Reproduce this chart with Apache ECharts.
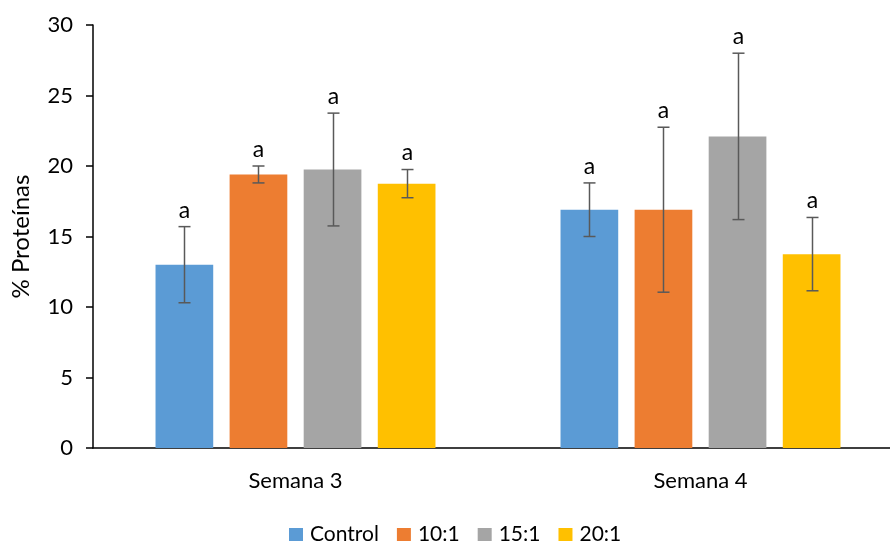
<!DOCTYPE html>
<html>
<head>
<meta charset="utf-8">
<script src="https://cdn.jsdelivr.net/npm/echarts@6/dist/echarts.min.js"></script>
<style>
  html, body { margin: 0; padding: 0; background: #fff; }
  #chart { width: 890px; height: 542px; }
</style>
</head>
<body>
<div id="chart"></div>
<script>
// Protein content per treatment, weeks 3 and 4 (mean ± error)
const categories = ['Semana 3', 'Semana 4'];
const seriesNames = ['Control', '10:1', '15:1', '20:1'];
const controlMean = [13.0, 16.9];
const ratio10Mean = [19.4, 16.9];
const ratio15Mean = [19.75, 22.1];
const ratio20Mean = [18.75, 13.75];
const controlErr = [2.7, 1.9];
const ratio10Err = [0.6, 5.85];
const ratio15Err = [4.0, 5.9];
const ratio20Err = [1.0, 2.6];
const groupLetters = [['a', 'a'], ['a', 'a'], ['a', 'a'], ['a', 'a']];
const yTicks = [0, 5, 10, 15, 20, 25, 30];

const means = [controlMean, ratio10Mean, ratio15Mean, ratio20Mean];
const errors = [controlErr, ratio10Err, ratio15Err, ratio20Err];
const colors = ['#5B9BD5', '#ED7D31', '#A5A5A5', '#FFC000'];

const FONT = 'Lato, "Open Sans", sans-serif';
const BAR_W = 57.7;
const BAR_GAP = 16.4;

const chart = echarts.init(document.getElementById('chart'), null, { renderer: 'canvas' });

const barSeries = seriesNames.map((name, i) => ({
  name: name,
  type: 'bar',
  data: means[i],
  barWidth: BAR_W,
  barGap: (BAR_GAP / BAR_W * 100).toFixed(1) + '%',
  itemStyle: { color: colors[i] },
  emphasis: { disabled: true },
  z: 2
}));

// Error whiskers and significance letters, placed over each bar
const errorSeries = seriesNames.map((name, i) => ({
  type: 'custom',
  name: name + ' error',
  z: 5,
  silent: true,
  data: categories.map((c, j) => [j, means[i][j], errors[i][j]]),
  renderItem: function (params, api) {
    const j = api.value(0);
    const m = api.value(1);
    const e = api.value(2);
    const offset = (i - 1.5) * (BAR_W + BAR_GAP);
    const hi = api.coord([j, m + e]);
    const lo = api.coord([j, m - e]);
    const x = Math.round(hi[0] + offset) + 0.5;
    const cap = 6;
    const style = { stroke: '#595959', lineWidth: 1.5 };
    return {
      type: 'group',
      children: [
        { type: 'line', shape: { x1: x, y1: hi[1], x2: x, y2: lo[1] }, style: style },
        { type: 'line', shape: { x1: x - cap, y1: hi[1], x2: x + cap, y2: hi[1] }, style: style },
        { type: 'line', shape: { x1: x - cap, y1: lo[1], x2: x + cap, y2: lo[1] }, style: style },
        {
          type: 'text',
          x: x,
          y: hi[1] - 5,
          style: {
            text: groupLetters[i][j],
            fill: '#000',
            fontSize: 23,
            fontFamily: FONT,
            align: 'center',
            verticalAlign: 'bottom'
          }
        }
      ]
    };
  }
}));

chart.setOption({
  animation: false,
  backgroundColor: '#fff',
  textStyle: { fontFamily: FONT },
  grid: { left: 93, top: 25, width: 810, bottom: 94, containLabel: false, outerBoundsMode: 'none' },
  legend: {
    data: seriesNames,
    top: 519,
    left: 284,
    itemWidth: 14,
    itemHeight: 13,
    itemGap: 18,
    icon: 'rect',
    textStyle: { fontSize: 21, color: '#000', fontFamily: FONT, padding: [0, 0, 0, 2] }
  },
  xAxis: {
    type: 'category',
    data: categories,
    axisLine: { lineStyle: { color: '#000', width: 1.5 } },
    axisTick: { show: false },
    axisLabel: { color: '#000', fontSize: 22, margin: 22, fontFamily: FONT }
  },
  yAxis: {
    type: 'value',
    min: yTicks[0],
    max: yTicks[yTicks.length - 1],
    interval: yTicks[1] - yTicks[0],
    name: '% Proteínas',
    nameLocation: 'middle',
    nameGap: 60,
    nameTextStyle: { color: '#000', fontSize: 24, fontFamily: FONT },
    axisLine: { show: true, lineStyle: { color: '#000', width: 1.5 } },
    axisTick: { show: true, inside: false, length: 7, lineStyle: { color: '#000', width: 1.5 } },
    splitLine: { show: false },
    axisLabel: { color: '#000', fontSize: 22, margin: 20, fontFamily: FONT }
  },
  series: barSeries.concat(errorSeries)
});
</script>
</body>
</html>
